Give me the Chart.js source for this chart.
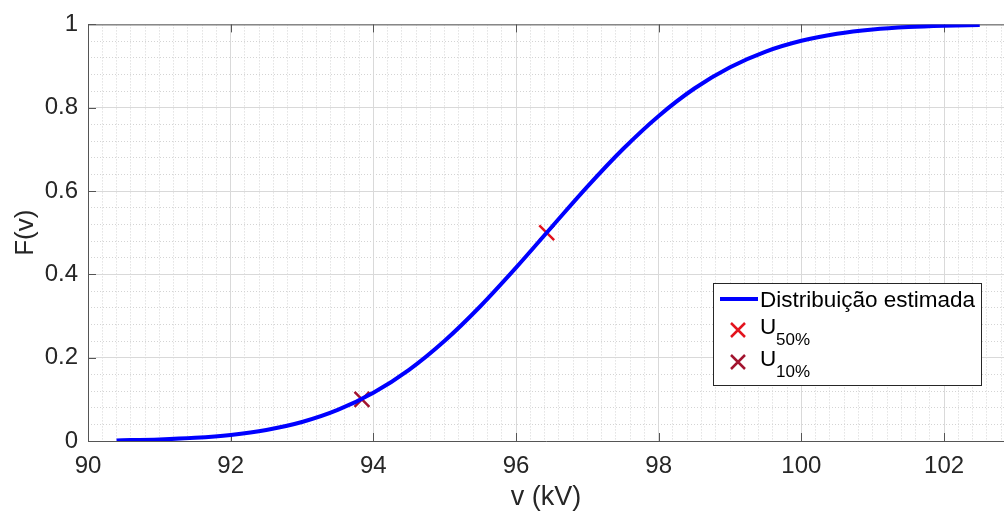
<!DOCTYPE html>
<html>
<head>
<meta charset="utf-8">
<script src="https://cdn.jsdelivr.net/npm/chart.js@4.4.0/dist/chart.umd.min.js"></script>
<style>
  body { margin: 0; background: #fff; }
  canvas { display: block; }
</style>
</head>
<body>
<canvas id="cdfChart" width="1004" height="511"></canvas>
<script>
// values
const vKv = [90.4, 91, 91.5, 92, 92.5, 93, 93.5, 94, 94.5, 95, 95.5, 96, 96.5,
             97, 97.5, 98, 98.5, 99, 99.5, 100, 100.5, 101, 101.5, 102, 102.5];
const fEst = [0.0015, 0.0037, 0.0076, 0.0146, 0.0264, 0.0455, 0.0745, 0.1157, 0.1708,
              0.2406, 0.3235, 0.4161, 0.5137, 0.6106, 0.7009, 0.7803, 0.8461, 0.8972,
              0.9348, 0.9607, 0.9775, 0.9878, 0.9938, 0.9970, 0.9986];
const u50 = { v: 96.43, f: 0.5 };
const u10 = { v: 93.84, f: 0.1 };
const xTicks = [90, 92, 94, 96, 98, 100, 102];
const yTicks = [0, 0.2, 0.4, 0.6, 0.8, 1];

const FONT = "'Liberation Sans', Arial, sans-serif";
const TEXT = "#262626";
const AXIS = "#555555";
const BLUE = "#0000ff";
const RED50 = "#e3141e";
const RED10 = "#a2142f";

// inward ticks + top box line (MATLAB style)
const axesBox = {
  id: "axesBox",
  beforeDatasetsDraw(chart) {
    const { ctx, chartArea: { left, right, top, bottom }, scales: { x, y } } = chart;
    ctx.save();
    ctx.strokeStyle = AXIS;
    ctx.lineWidth = 1;
    ctx.beginPath();
    ctx.moveTo(left, top + 0.5);
    ctx.lineTo(right, top + 0.5);
    xTicks.forEach(v => {
      const px = Math.round(x.getPixelForValue(v)) + 0.5;
      ctx.moveTo(px, bottom);
      ctx.lineTo(px, bottom - 8);
      ctx.moveTo(px, top);
      ctx.lineTo(px, top + 8);
    });
    yTicks.forEach(v => {
      const py = Math.round(y.getPixelForValue(v)) + 0.5;
      ctx.moveTo(left, py);
      ctx.lineTo(left + 8, py);
    });
    ctx.stroke();
    ctx.restore();
  }
};

// legend with subscripts
const legendBox = {
  id: "legendBox",
  afterDraw(chart) {
    const ctx = chart.ctx;
    const bx = 713, by = 283, bw = 268, bh = 102;
    ctx.save();
    ctx.fillStyle = "#fff";
    ctx.fillRect(bx, by, bw, bh);
    ctx.strokeStyle = TEXT;
    ctx.lineWidth = 1;
    ctx.strokeRect(bx + 0.5, by + 0.5, bw, bh);

    ctx.strokeStyle = BLUE;
    ctx.lineWidth = 4;
    ctx.beginPath();
    ctx.moveTo(720, 299);
    ctx.lineTo(758, 299);
    ctx.stroke();

    const cross = (cx, cy, col) => {
      ctx.strokeStyle = col;
      ctx.lineWidth = 2.5;
      ctx.beginPath();
      ctx.moveTo(cx - 7, cy - 7); ctx.lineTo(cx + 7, cy + 7);
      ctx.moveTo(cx + 7, cy - 7); ctx.lineTo(cx - 7, cy + 7);
      ctx.stroke();
    };
    cross(738, 330, RED50);
    cross(738, 362, RED10);

    ctx.fillStyle = "#000";
    ctx.textBaseline = "alphabetic";
    ctx.font = "22.5px " + FONT;
    ctx.fillText("Distribuição estimada", 760, 307);
    ctx.fillText("U", 760, 334);
    ctx.fillText("U", 760, 366);
    ctx.font = "17px " + FONT;
    ctx.fillText("50%", 776, 345);
    ctx.fillText("10%", 776, 377);
    ctx.restore();
  }
};

const minorGrid = (axis, step, max) => ({
  type: "linear",
  axis: axis,
  position: axis === "x" ? "bottom" : "left",
  min: axis === "x" ? 90 : 0,
  max: max,
  display: true,
  afterFit(s) { if (axis === "x") s.height = 0; else s.width = 0; },
  ticks: { display: false, stepSize: step, maxTicksLimit: 200, autoSkip: false, includeBounds: false },
  grid: { color: "#d4d4d4", lineWidth: 1, drawTicks: false },
  border: { display: false, dash: [1, 2] }
});

new Chart(document.getElementById("cdfChart"), {
  type: "line",
  data: {
    datasets: [
      {
        label: "Distribuição estimada",
        data: vKv.map((v, i) => ({ x: v, y: fEst[i] })),
        borderColor: BLUE,
        borderWidth: 4,
        pointRadius: 0,
        cubicInterpolationMode: "monotone",
        fill: false
      },
      {
        label: "U50%",
        data: [{ x: u50.v, y: u50.f }],
        showLine: false,
        pointStyle: "crossRot",
        pointRadius: 10.5,
        pointBorderWidth: 2.5,
        pointBorderColor: RED50,
        borderColor: RED50
      },
      {
        label: "U10%",
        data: [{ x: u10.v, y: u10.f }],
        showLine: false,
        pointStyle: "crossRot",
        pointRadius: 10.5,
        pointBorderWidth: 2.5,
        pointBorderColor: RED10,
        borderColor: RED10
      }
    ]
  },
  options: {
    responsive: false,
    animation: false,
    layout: { autoPadding: false, padding: { top: 21, right: 0, left: 0, bottom: 0 } },
    plugins: { legend: { display: false }, tooltip: { enabled: false } },
    scales: {
      xMinor: minorGrid("x", 0.2, 102.84),
      yMinor: minorGrid("y", 0.04, 1),
      x: {
        type: "linear",
        position: "bottom",
        min: 90,
        max: 102.84,
        afterFit(s) { s.height = 70; },
        afterBuildTicks(s) { s.ticks = xTicks.map(v => ({ value: v })); },
        ticks: {
          color: TEXT,
          padding: 11,
          font: { family: FONT, size: 24 },
          callback: v => String(v),
          includeBounds: false
        },
        grid: { color: "#d9d9d9", drawTicks: false },
        border: { color: AXIS, width: 1 },
        title: {
          display: true,
          text: "v (kV)",
          color: TEXT,
          font: { family: FONT, size: 27, lineHeight: 1 },
          padding: { top: 0, bottom: 0 }
        }
      },
      y: {
        type: "linear",
        position: "left",
        min: 0,
        max: 1,
        afterFit(s) { s.width = 88; },
        afterBuildTicks(s) { s.ticks = yTicks.map(v => ({ value: v })); },
        ticks: {
          color: TEXT,
          padding: 10,
          font: { family: FONT, size: 24 },
          callback: v => String(v)
        },
        grid: { color: "#d9d9d9", drawTicks: false },
        border: { color: AXIS, width: 1 },
        title: {
          display: true,
          text: "F(v)",
          color: TEXT,
          font: { family: FONT, size: 26, lineHeight: 1 },
          padding: { top: 13, bottom: 0 }
        }
      }
    }
  },
  plugins: [axesBox, legendBox]
});
</script>
</body>
</html>
